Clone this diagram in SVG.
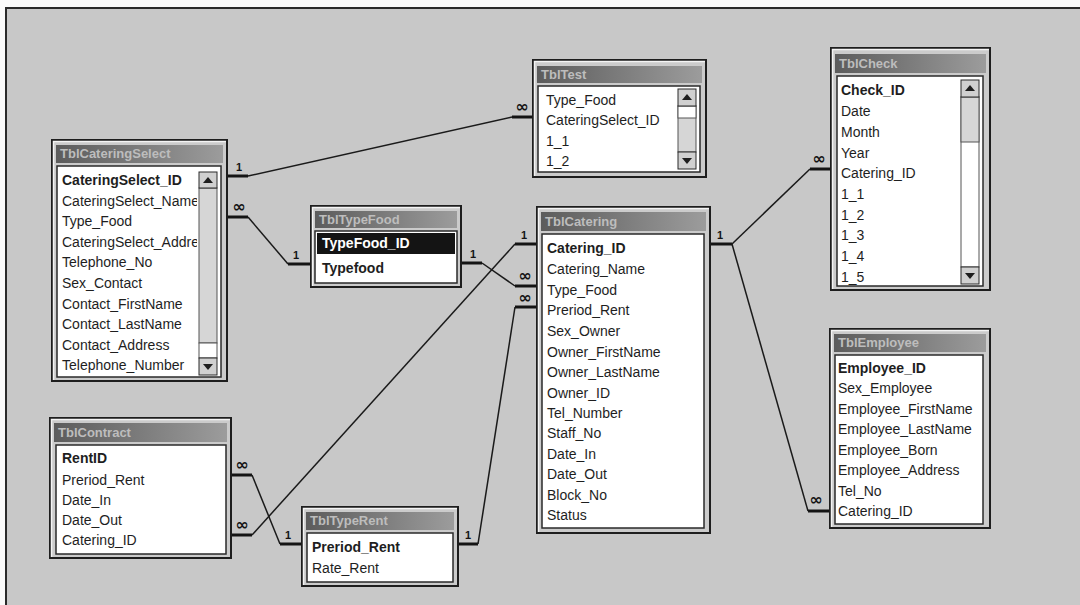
<svg xmlns="http://www.w3.org/2000/svg" width="1080" height="605" viewBox="0 0 1080 605">
<defs>
<linearGradient id="tb" x1="0" y1="0" x2="1" y2="0">
<stop offset="0" stop-color="#5c5c5c"/>
<stop offset="1" stop-color="#9c9c9c"/>
</linearGradient>
</defs>
<style>
.frame{fill:#cbcbcb;stroke:#1e1e1e;stroke-width:2}
.hl{fill:none;stroke:#f4f4f4;stroke-width:1.5}
.title{fill:url(#tb)}
.list{fill:#ffffff;stroke:#2a2a2a;stroke-width:1.5}
.tt{font-family:"Liberation Sans",Arial,sans-serif;font-size:13px;font-weight:bold;fill:#bdbdbd}
.f{font-family:"Liberation Sans",Arial,sans-serif;font-size:14px;fill:#1e1e1e}
.b{font-weight:bold}
.sel{fill:#141414}
.w{fill:#ffffff}
.sbtrack{fill:#d6d6d6;stroke:#555;stroke-width:1}
.sbthumb{fill:#ffffff;stroke:#555;stroke-width:1}
.sbbtn{fill:#d0d0d0;stroke:#2a2a2a;stroke-width:1}
.arr{fill:#1e1e1e}
.stub{stroke:#141414;stroke-width:3;fill:none}
.ln{stroke:#1a1a1a;stroke-width:1.5;fill:none}
.c1{font-family:"Liberation Sans",Arial,sans-serif;font-size:11px;font-weight:bold;fill:#141414;text-anchor:middle}
.ci{font-family:"DejaVu Sans",sans-serif;font-size:16px;font-weight:bold;fill:#141414;text-anchor:middle}
</style>
<rect x="0" y="0" width="1080" height="605" fill="#fafafa"/>
<rect x="6" y="8" width="1074" height="597" fill="#c8c8c8"/>
<path d="M6 605 V8 H1080" fill="none" stroke="#2a2a2a" stroke-width="2"/>

<g id="connectors">
<path class="stub" d="M227 176 H248"/>
<path class="ln" d="M248 176 L512 117"/>
<path class="stub" d="M512 117 H533"/>
<text class="c1" x="239" y="171">1</text>
<text class="ci" x="522" y="112">∞</text>
<path class="stub" d="M227 217 H248"/>
<path class="ln" d="M248 217 L288 264"/>
<path class="stub" d="M288 264 H311"/>
<text class="ci" x="239" y="212">∞</text>
<text class="c1" x="296" y="259">1</text>
<path class="stub" d="M461 263 H482"/>
<path class="ln" d="M482 263 L515 286"/>
<path class="stub" d="M515 286 H537"/>
<text class="c1" x="473" y="258">1</text>
<text class="ci" x="525" y="281">∞</text>
<path class="stub" d="M231 535 H252"/>
<path class="ln" d="M252 535 L515 244"/>
<path class="stub" d="M515 244 H537"/>
<text class="ci" x="242" y="530">∞</text>
<text class="c1" x="524" y="239">1</text>
<path class="stub" d="M231 475 H252"/>
<path class="ln" d="M252 475 L280 544"/>
<path class="stub" d="M280 544 H302"/>
<text class="ci" x="242" y="470">∞</text>
<text class="c1" x="288" y="539">1</text>
<path class="stub" d="M458 544 H478"/>
<path class="ln" d="M478 544 L515 307"/>
<path class="stub" d="M515 307 H537"/>
<text class="c1" x="468" y="539">1</text>
<text class="ci" x="525" y="303">∞</text>
<path class="stub" d="M710 244 H732"/>
<path class="ln" d="M732 244 L810 169"/>
<path class="stub" d="M810 169 H831"/>
<text class="c1" x="720" y="239">1</text>
<text class="ci" x="819" y="164">∞</text>
<path class="ln" d="M732 244 L808 511"/>
<path class="stub" d="M808 511 H830"/>
<text class="ci" x="816" y="505">∞</text>
</g>

<g id="TblCateringSelect">
<rect class="frame" x="52" y="140" width="175" height="241"/>
<path class="hl" d="M53.5 380 V141.5 H226"/>
<rect class="title" x="56" y="145" width="167" height="18"/>
<text class="tt" x="60" y="158">TblCateringSelect</text>
<rect class="list" x="57" y="166" width="164" height="211"/>
<text class="f b" x="62" y="185">CateringSelect_ID</text>
<text class="f" x="62" y="206">CateringSelect_Name</text>
<text class="f" x="62" y="226">Type_Food</text>
<text class="f" x="62" y="247">CateringSelect_Address</text>
<text class="f" x="62" y="267">Telephone_No</text>
<text class="f" x="62" y="288">Sex_Contact</text>
<text class="f" x="62" y="309">Contact_FirstName</text>
<text class="f" x="62" y="329">Contact_LastName</text>
<text class="f" x="62" y="350">Contact_Address</text>
<text class="f" x="62" y="370">Telephone_Number</text>
<rect x="197" y="167" width="23" height="209" fill="#ffffff"/>
<rect class="sbtrack" x="199" y="188" width="18" height="155"/>
<rect class="sbthumb" x="199" y="343" width="18" height="15"/>
<rect class="sbbtn" x="199" y="172" width="18" height="16"/>
<path class="arr" d="M203 183 L208 177 L213 183 Z"/>
<rect class="sbbtn" x="199" y="358" width="18" height="17"/>
<path class="arr" d="M203 364 L208 370 L213 364 Z"/>
</g>

<g id="TblTest">
<rect class="frame" x="533" y="60" width="173" height="117"/>
<path class="hl" d="M534.5 176 V61.5 H705"/>
<rect class="title" x="537" y="66" width="165" height="17"/>
<text class="tt" x="541" y="79">TblTest</text>
<rect class="list" x="538" y="86" width="162" height="86"/>
<text class="f" x="546" y="105">Type_Food</text>
<text class="f" x="546" y="125">CateringSelect_ID</text>
<text class="f" x="546" y="146">1_1</text>
<text class="f" x="546" y="166">1_2</text>
<rect x="676" y="87" width="23" height="84" fill="#ffffff"/>
<rect class="sbtrack" x="678" y="106" width="18" height="46"/>
<rect class="sbthumb" x="678" y="106" width="18" height="12"/>
<rect class="sbbtn" x="678" y="89" width="18" height="17"/>
<path class="arr" d="M682 100 L687 94 L692 100 Z"/>
<rect class="sbbtn" x="678" y="152" width="18" height="17"/>
<path class="arr" d="M682 158 L687 164 L692 158 Z"/>
</g>

<g id="TblTypeFood">
<rect class="frame" x="311" y="206" width="150" height="81"/>
<path class="hl" d="M312.5 286 V207.5 H460"/>
<rect class="title" x="315" y="211" width="142" height="17"/>
<text class="tt" x="319" y="224">TblTypeFood</text>
<rect class="list" x="315" y="231" width="142" height="52"/>
<rect class="sel" x="317" y="233" width="138" height="21"/>
<text class="f b w" x="322" y="248">TypeFood_ID</text>
<text class="f b" x="322" y="273">Typefood</text>
</g>

<g id="TblCatering">
<rect class="frame" x="537" y="207" width="173" height="326"/>
<path class="hl" d="M538.5 532 V208.5 H709"/>
<rect class="title" x="541" y="212" width="165" height="19"/>
<text class="tt" x="545" y="226">TblCatering</text>
<rect class="list" x="542" y="234" width="162" height="294"/>
<text class="f b" x="547" y="253">Catering_ID</text>
<text class="f" x="547" y="274">Catering_Name</text>
<text class="f" x="547" y="295">Type_Food</text>
<text class="f" x="547" y="315">Preriod_Rent</text>
<text class="f" x="547" y="336">Sex_Owner</text>
<text class="f" x="547" y="357">Owner_FirstName</text>
<text class="f" x="547" y="377">Owner_LastName</text>
<text class="f" x="547" y="398">Owner_ID</text>
<text class="f" x="547" y="418">Tel_Number</text>
<text class="f" x="547" y="438">Staff_No</text>
<text class="f" x="547" y="459">Date_In</text>
<text class="f" x="547" y="479">Date_Out</text>
<text class="f" x="547" y="500">Block_No</text>
<text class="f" x="547" y="520">Status</text>
</g>

<g id="TblCheck">
<rect class="frame" x="831" y="48" width="159" height="242"/>
<path class="hl" d="M832.5 289 V49.5 H989"/>
<rect class="title" x="835" y="54" width="151" height="19"/>
<text class="tt" x="839" y="68">TblCheck</text>
<rect class="list" x="837" y="76" width="146" height="210"/>
<text class="f b" x="841" y="95">Check_ID</text>
<text class="f" x="841" y="116">Date</text>
<text class="f" x="841" y="137">Month</text>
<text class="f" x="841" y="158">Year</text>
<text class="f" x="841" y="178">Catering_ID</text>
<text class="f" x="841" y="199">1_1</text>
<text class="f" x="841" y="220">1_2</text>
<text class="f" x="841" y="240">1_3</text>
<text class="f" x="841" y="261">1_4</text>
<text class="f" x="841" y="282">1_5</text>
<rect x="959" y="77" width="23" height="208" fill="#ffffff"/>
<rect class="sbthumb" x="961" y="97" width="18" height="170"/>
<rect class="sbtrack" x="961" y="97" width="18" height="45"/>
<rect class="sbbtn" x="961" y="80" width="18" height="17"/>
<path class="arr" d="M965 91 L970 85 L975 91 Z"/>
<rect class="sbbtn" x="961" y="267" width="18" height="17"/>
<path class="arr" d="M965 273 L970 279 L975 273 Z"/>
</g>

<g id="TblEmployee">
<rect class="frame" x="830" y="329" width="160" height="199"/>
<path class="hl" d="M831.5 527 V330.5 H989"/>
<rect class="title" x="834" y="334" width="152" height="18"/>
<text class="tt" x="838" y="347">TblEmployee</text>
<rect class="list" x="835" y="355" width="148" height="169"/>
<text class="f b" x="838" y="373">Employee_ID</text>
<text class="f" x="838" y="393">Sex_Employee</text>
<text class="f" x="838" y="414">Employee_FirstName</text>
<text class="f" x="838" y="434">Employee_LastName</text>
<text class="f" x="838" y="455">Employee_Born</text>
<text class="f" x="838" y="475">Employee_Address</text>
<text class="f" x="838" y="496">Tel_No</text>
<text class="f" x="838" y="516">Catering_ID</text>
</g>

<g id="TblContract">
<rect class="frame" x="50" y="418" width="181" height="140"/>
<path class="hl" d="M51.5 557 V419.5 H230"/>
<rect class="title" x="54" y="423" width="173" height="19"/>
<text class="tt" x="58" y="437">TblContract</text>
<rect class="list" x="56" y="445" width="170" height="109"/>
<text class="f b" x="62" y="463">RentID</text>
<text class="f" x="62" y="485">Preriod_Rent</text>
<text class="f" x="62" y="505">Date_In</text>
<text class="f" x="62" y="525">Date_Out</text>
<text class="f" x="62" y="545">Catering_ID</text>
</g>

<g id="TblTypeRent">
<rect class="frame" x="302" y="507" width="156" height="79"/>
<path class="hl" d="M303.5 585 V508.5 H457"/>
<rect class="title" x="306" y="512" width="148" height="18"/>
<text class="tt" x="310" y="525">TblTypeRent</text>
<rect class="list" x="307" y="533" width="146" height="49"/>
<text class="f b" x="312" y="552">Preriod_Rent</text>
<text class="f" x="312" y="573">Rate_Rent</text>
</g>
</svg>
